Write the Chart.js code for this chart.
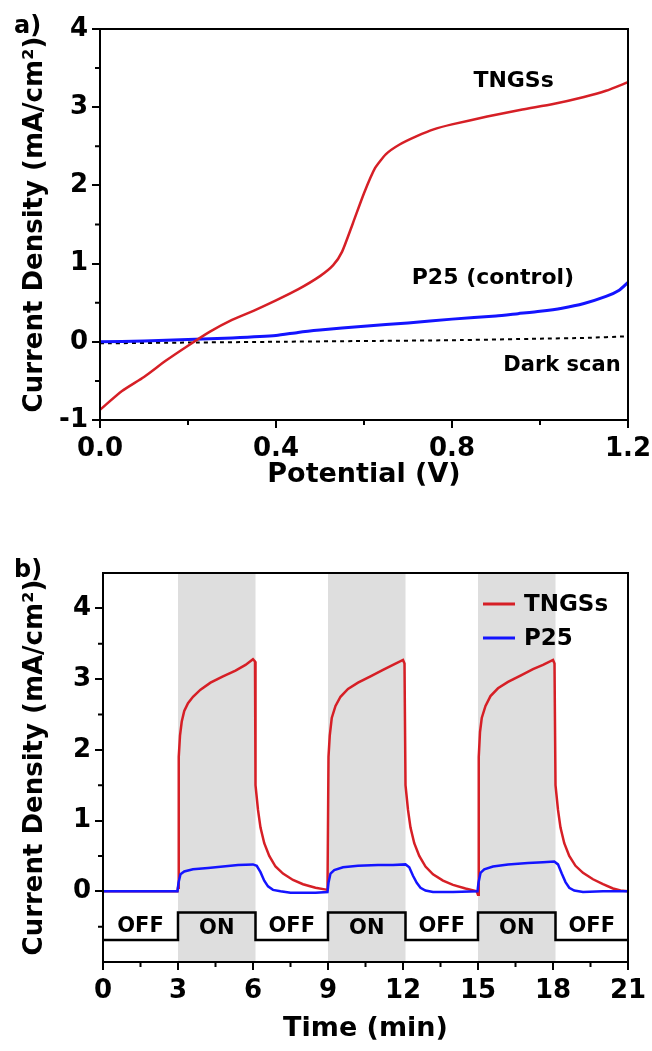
<!DOCTYPE html>
<html lang="en">
<head>
<meta charset="UTF-8" />
<title>Photocurrent of TNGSs vs P25</title>
<script src="https://cdn.jsdelivr.net/npm/chart.js"></script>
<style>
  body { margin: 0; background: #fff; }
  #wrap { position: relative; width: 652px; height: 1051px; }
  .box { position: absolute; left: 0; width: 652px; }
  #boxA { top: 0; height: 505px; }
  #boxB { top: 505px; height: 546px; }
</style>
</head>
<body>
<div id="wrap">
  <div class="box" id="boxA"><canvas id="sweepChart"></canvas></div>
  <div class="box" id="boxB"><canvas id="chopChart"></canvas></div>
</div>
<script>
// ---- panel a) linear sweep ----
const tngsPotential = [0, 0.05, 0.1, 0.15, 0.2, 0.25, 0.3, 0.35, 0.4, 0.45, 0.5, 0.53, 0.55, 0.575, 0.6, 0.625, 0.65, 0.68, 0.72, 0.76, 0.8, 0.88, 0.96, 1.03, 1.1, 1.15, 1.2];
const tngsSweep = [-0.87, -0.63, -0.45, -0.24, -0.05, 0.13, 0.28, 0.4, 0.53, 0.67, 0.84, 0.98, 1.15, 1.52, 1.9, 2.22, 2.4, 2.52, 2.63, 2.72, 2.78, 2.88, 2.97, 3.04, 3.13, 3.21, 3.32];
const p25Potential = [0, 0.1, 0.2, 0.3, 0.4, 0.45, 0.5, 0.6, 0.7, 0.8, 0.9, 0.95, 1.0, 1.05, 1.1, 1.15, 1.18, 1.2];
const p25Sweep = [0, 0.01, 0.03, 0.05, 0.08, 0.12, 0.15, 0.2, 0.24, 0.29, 0.33, 0.36, 0.39, 0.43, 0.49, 0.58, 0.66, 0.76];
const darkPotential = [0, 0.2, 0.4, 0.6, 0.8, 1.0, 1.1, 1.2];
const darkSweep = [-0.02, -0.01, 0.0, 0.01, 0.02, 0.04, 0.05, 0.07];
const potentialTicks = [0, 0.4, 0.8, 1.2];
const sweepTicks = [-1, 0, 1, 2, 3, 4];

// ---- panel b) chopped light, current vs time ----
const tngsTime = [0, 2.98, 3.0, 3.03, 3.08, 3.15, 3.25, 3.4, 3.6, 3.9, 4.3, 4.8, 5.3, 5.7, 6.0, 6.08,
  6.1, 6.2, 6.3, 6.45, 6.65, 6.9, 7.2, 7.6, 8.0, 8.5, 8.98,
  9.02, 9.07, 9.15, 9.3, 9.5, 9.8, 10.2, 10.7, 11.2, 11.6, 12.0, 12.06,
  12.1, 12.2, 12.3, 12.45, 12.65, 12.9, 13.2, 13.6, 14.0, 14.5, 14.95, 15.0,
  15.03, 15.08, 15.15, 15.3, 15.5, 15.8, 16.2, 16.7, 17.2, 17.6, 18.0, 18.06,
  18.1, 18.2, 18.3, 18.45, 18.65, 18.9, 19.2, 19.6, 20.0, 20.4, 20.7, 21];
const tngsCurrent = [0, 0, 0.05, 1.9, 2.2, 2.4, 2.55, 2.66, 2.75, 2.85, 2.95, 3.04, 3.12, 3.2, 3.28, 3.25,
  1.5, 1.15, 0.9, 0.68, 0.5, 0.35, 0.25, 0.16, 0.1, 0.05, 0.02,
  1.9, 2.2, 2.45, 2.62, 2.75, 2.86, 2.95, 3.04, 3.13, 3.2, 3.27, 3.22,
  1.5, 1.15, 0.9, 0.68, 0.5, 0.35, 0.24, 0.15, 0.09, 0.04, 0.0, -0.05,
  1.9, 2.25, 2.45, 2.62, 2.76, 2.87, 2.96, 3.05, 3.14, 3.2, 3.27, 3.22,
  1.5, 1.15, 0.9, 0.68, 0.5, 0.36, 0.26, 0.17, 0.1, 0.04, 0.01, 0.0];
const p25Time = [0, 2.98, 3.02, 3.1, 3.25, 3.6, 4.2, 4.8, 5.4, 6.0, 6.15, 6.3, 6.45, 6.6, 6.8, 7.1, 7.5, 8.5, 8.98,
  9.02, 9.1, 9.25, 9.6, 10.2, 11.0, 11.6, 12.1, 12.25, 12.4, 12.55, 12.7, 12.9, 13.2, 14.0, 14.98,
  15.02, 15.1, 15.25, 15.6, 16.2, 17.0, 17.6, 18.05, 18.2, 18.35, 18.5, 18.65, 18.85, 19.2, 20.0, 21];
const p25Current = [0, 0, 0.12, 0.24, 0.28, 0.31, 0.33, 0.35, 0.37, 0.38, 0.36, 0.27, 0.15, 0.07, 0.02, 0.0, -0.02, -0.02, -0.01,
  0.12, 0.25, 0.3, 0.34, 0.36, 0.37, 0.37, 0.38, 0.34, 0.22, 0.12, 0.05, 0.01, -0.01, -0.01, 0.0,
  0.12, 0.26, 0.31, 0.35, 0.38, 0.4, 0.41, 0.42, 0.38, 0.25, 0.13, 0.05, 0.01, -0.01, 0.0, 0.0];
const lightOn = [3, 9, 15];
const lightOff = [6.1, 12.1, 18.1];
const lampLevels = [-0.69, -0.3];   // OFF level, ON level of the lamp trace
const timeTicks = [0, 3, 6, 9, 12, 15, 18, 21];
const chopTicks = [0, 1, 2, 3, 4];

const pairs = (xs, ys) => xs.map((x, i) => ({ x: x, y: ys[i] }));
const FONT = '"DejaVu Sans", Verdana, sans-serif';
const RED = '#d61f26';
const BLUE = '#1414ff';

// lamp on/off trace built from the switching times
const lampTrace = [{ x: 0, y: lampLevels[0] }];
lightOn.forEach((t, i) => {
  lampTrace.push({ x: t, y: lampLevels[1] });
  lampTrace.push({ x: lightOff[i], y: lampLevels[0] });
});
lampTrace.push({ x: 21, y: lampLevels[0] });

// box around the plot + short minor ticks
const frame = {
  id: 'frame',
  afterDraw(chart, args, opts) {
    const { ctx, chartArea: a, scales } = chart;
    ctx.save();
    ctx.strokeStyle = '#000';
    ctx.lineWidth = 2;
    ctx.strokeRect(a.left, a.top, a.right - a.left, a.bottom - a.top);
    ctx.beginPath();
    (opts.minorX || []).forEach(v => {
      const px = scales.x.getPixelForValue(v);
      ctx.moveTo(px, a.bottom); ctx.lineTo(px, a.bottom + 5);
    });
    (opts.minorY || []).forEach(v => {
      const py = scales.y.getPixelForValue(v);
      ctx.moveTo(a.left, py); ctx.lineTo(a.left - 5, py);
    });
    ctx.stroke();
    if (opts.panel) {
      ctx.fillStyle = '#000';
      ctx.font = 'bold 24px ' + FONT;
      ctx.textBaseline = 'alphabetic';
      ctx.fillText(opts.panel, 14, opts.panelY);
    }
    ctx.restore();
  }
};

// text placed in data coordinates
const notes = {
  id: 'notes',
  afterDatasetsDraw(chart, args, opts) {
    const { ctx, scales } = chart;
    ctx.save();
    ctx.fillStyle = '#000';
    ctx.textAlign = 'center';
    ctx.textBaseline = 'middle';
    (opts.items || []).forEach(n => {
      ctx.font = 'bold ' + n.size + 'px ' + FONT;
      ctx.fillText(n.text, scales.x.getPixelForValue(n.x), scales.y.getPixelForValue(n.y));
    });
    ctx.restore();
  }
};

// grey bands while the light is on
const bands = {
  id: 'bands',
  beforeDatasetsDraw(chart) {
    const { ctx, chartArea: a, scales } = chart;
    ctx.save();
    ctx.fillStyle = '#dedede';
    lightOn.forEach((t, i) => {
      const x0 = scales.x.getPixelForValue(t);
      const x1 = scales.x.getPixelForValue(lightOff[i]);
      ctx.fillRect(x0, a.top, x1 - x0, a.bottom - a.top);
    });
    ctx.restore();
  }
};

// legend inside the plot, top right
const innerLegend = {
  id: 'innerLegend',
  afterDraw(chart, args, opts) {
    if (!opts.entries) return;
    const { ctx, chartArea: a } = chart;
    ctx.save();
    ctx.font = 'bold 23px ' + FONT;
    ctx.textBaseline = 'middle';
    opts.entries.forEach((e, i) => {
      const y = a.top + 31 + i * 34;
      ctx.strokeStyle = e.color;
      ctx.lineWidth = 3;
      ctx.beginPath();
      ctx.moveTo(a.right - 145, y); ctx.lineTo(a.right - 113, y);
      ctx.stroke();
      ctx.fillStyle = '#000';
      ctx.fillText(e.label, a.right - 104, y + 1);
    });
    ctx.restore();
  }
};

function axes(xMin, xMax, xTicks, xTitle, xHeight, xTitlePad, yMin, yMax, yTicks, yWidth, fmtX) {
  return {
    x: {
      type: 'linear', min: xMin, max: xMax,
      afterBuildTicks: s => { s.ticks = xTicks.map(v => ({ value: v })); },
      afterFit: s => { s.height = xHeight; s.paddingLeft = 0; s.paddingRight = 0; },
      ticks: { color: '#000', font: { family: FONT, size: 26, weight: 'bold' }, padding: 6, maxRotation: 0,
               callback: v => fmtX(v) },
      grid: { drawOnChartArea: false, drawTicks: true, tickLength: 8, color: '#000', lineWidth: 2 },
      border: { color: '#000', width: 2 },
      title: { display: true, text: xTitle, color: '#000', font: { family: FONT, size: 27, weight: 'bold' },
               padding: { top: 0, bottom: xTitlePad } }
    },
    y: {
      min: yMin, max: yMax,
      afterBuildTicks: s => { s.ticks = yTicks.map(v => ({ value: v })); },
      afterFit: s => { s.width = yWidth; s.paddingTop = 0; s.paddingBottom = 0; },
      ticks: { color: '#000', font: { family: FONT, size: 26, weight: 'bold' }, padding: 4,
               callback: v => String(v) },
      grid: { drawOnChartArea: false, drawTicks: true, tickLength: 8, color: '#000', lineWidth: 2 },
      border: { color: '#000', width: 2 },
      title: { display: true, text: 'Current Density (mA/cm\u00B2)', color: '#000',
               font: { family: FONT, size: 26, weight: 'bold' }, padding: { top: 20, bottom: 0 } }
    }
  };
}

new Chart(document.getElementById('sweepChart'), {
  type: 'line',
  data: {
    datasets: [
      { label: 'TNGSs', data: pairs(tngsPotential, tngsSweep), borderColor: RED, borderWidth: 2.5 },
      { label: 'P25 (control)', data: pairs(p25Potential, p25Sweep), borderColor: BLUE, borderWidth: 3 },
      { label: 'Dark scan', data: pairs(darkPotential, darkSweep), borderColor: '#000', borderWidth: 2, borderDash: [4, 4] }
    ]
  },
  options: {
    responsive: true, maintainAspectRatio: false, animation: false, devicePixelRatio: 1,
    elements: { point: { radius: 0 }, line: { tension: 0.2 } },
    layout: { padding: { left: 0, right: 24, top: 29, bottom: 0 } },
    scales: axes(0, 1.2, potentialTicks, 'Potential (V)', 85, 14, -1, 4, sweepTicks, 100, v => v.toFixed(1)),
    plugins: {
      legend: { display: false }, tooltip: { enabled: false },
      frame: { minorX: [0.2, 0.6, 1.0], minorY: [-0.5, 0.5, 1.5, 2.5, 3.5], panel: 'a)', panelY: 33 },
      notes: { items: [
        { text: 'TNGSs', x: 0.94, y: 3.33, size: 22 },
        { text: 'P25 (control)', x: 0.893, y: 0.81, size: 22 },
        { text: 'Dark scan', x: 1.05, y: -0.3, size: 21 }
      ] }
    }
  },
  plugins: [frame, notes]
});

new Chart(document.getElementById('chopChart'), {
  type: 'line',
  data: {
    datasets: [
      { label: 'TNGSs', data: pairs(tngsTime, tngsCurrent), borderColor: RED, borderWidth: 2.5, order: 2 },
      { label: 'P25', data: pairs(p25Time, p25Current), borderColor: BLUE, borderWidth: 2.5, order: 1 },
      { label: 'lamp', data: lampTrace, borderColor: '#000', borderWidth: 2.5, stepped: 'before', order: 3 }
    ]
  },
  options: {
    responsive: true, maintainAspectRatio: false, animation: false, devicePixelRatio: 1,
    elements: { point: { radius: 0 }, line: { tension: 0 } },
    layout: { padding: { left: 0, right: 24, top: 68, bottom: 0 } },
    scales: axes(0, 21, timeTicks, 'Time (min)', 89, 6, -1, 4.5, chopTicks, 103, v => String(v)),
    plugins: {
      legend: { display: false }, tooltip: { enabled: false },
      frame: { minorX: [1.5, 4.5, 7.5, 10.5, 13.5, 16.5, 19.5], minorY: [-0.5, 0.5, 1.5, 2.5, 3.5], panel: 'b)', panelY: 72 },
      notes: { items: [
        { text: 'OFF', x: 1.5, y: -0.5, size: 21 },
        { text: 'ON', x: 4.55, y: -0.53, size: 21 },
        { text: 'OFF', x: 7.55, y: -0.5, size: 21 },
        { text: 'ON', x: 10.55, y: -0.53, size: 21 },
        { text: 'OFF', x: 13.55, y: -0.5, size: 21 },
        { text: 'ON', x: 16.55, y: -0.53, size: 21 },
        { text: 'OFF', x: 19.55, y: -0.5, size: 21 }
      ] },
      innerLegend: { entries: [{ label: 'TNGSs', color: RED }, { label: 'P25', color: BLUE }] }
    }
  },
  plugins: [bands, frame, notes, innerLegend]
});
</script>
</body>
</html>
